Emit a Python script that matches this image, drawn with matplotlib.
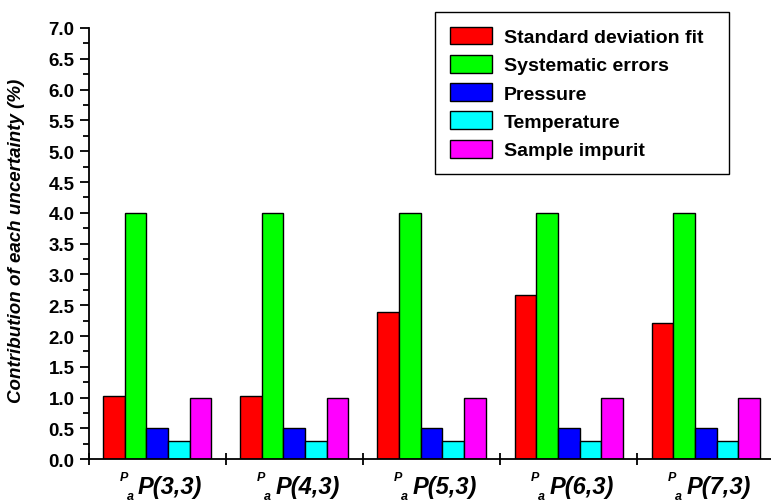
import matplotlib
matplotlib.use("Agg")
import matplotlib.pyplot as plt
import numpy as np
from matplotlib.ticker import MultipleLocator, FixedLocator

plt.rcParams['font.family'] = ['Liberation Sans', 'DejaVu Sans']
plt.rcParams['font.weight'] = 'bold'

groups = ["P(3,3)", "P(4,3)", "P(5,3)", "P(6,3)", "P(7,3)"]
pre_sup = ["P", "P", "P", "P", "P"]
pre_sub = ["a", "a", "a", "a", "a"]

series_names = ["Standard deviation fit", "Systematic errors", "Pressure",
                "Temperature", "Sample impurit"]
std_fit = [1.03, 1.03, 2.39, 2.67, 2.22]
systematic = [4.0, 4.0, 4.0, 4.0, 4.0]
pressure = [0.5, 0.5, 0.5, 0.5, 0.5]
temperature = [0.3, 0.3, 0.3, 0.3, 0.3]
impurity = [1.0, 1.0, 1.0, 1.0, 1.0]
colors = ["#FF0000", "#00FF00", "#0000FF", "#00FFFF", "#FF00FF"]

series = [std_fit, systematic, pressure, temperature, impurity]

W, H = 771, 502
fig = plt.figure(figsize=(W / 100, H / 100), dpi=100)
left_px, right_px, top_px, bottom_px = 88.5, 774.5, 29, 460.3
ax = fig.add_axes([left_px / W, 1 - bottom_px / H,
                   (right_px - left_px) / W, (bottom_px - top_px) / H])

x = np.arange(1, len(groups) + 1)
bw = 0.158
n = len(series)
for i, (vals, c, name) in enumerate(zip(series, colors, series_names)):
    ax.bar(x + (i - (n - 1) / 2) * bw, vals, width=bw, color=c,
           edgecolor='black', linewidth=1.0, label=name, zorder=2)

ax.set_xlim(0.5, len(groups) + 0.5)
ax.set_ylim(0, 7.0)

for s in ['top', 'right']:
    ax.spines[s].set_visible(False)
for s in ['left', 'bottom']:
    ax.spines[s].set_linewidth(1.3)

ax.yaxis.set_major_locator(MultipleLocator(0.5))
ax.yaxis.set_minor_locator(MultipleLocator(0.25))
ax.yaxis.set_major_formatter(matplotlib.ticker.FormatStrFormatter('%.1f'))
ax.tick_params(axis='y', which='major', direction='out', length=6.5, width=1.3,
               labelsize=13.5, pad=3.5)
ax.tick_params(axis='y', which='minor', direction='out', length=4, width=1.3)
for lbl in ax.get_yticklabels():
    lbl.set_fontweight('bold')

ax.xaxis.set_major_locator(FixedLocator(np.arange(0.5, len(groups) + 1, 1.0)))
ax.xaxis.set_minor_locator(FixedLocator(x))
ax.tick_params(axis='x', which='major', direction='inout', length=8, width=1.3,
               labelbottom=False)
ax.tick_params(axis='x', which='minor', direction='in', length=3.5, width=1.3)

for xi, main, sup, sub in zip(x, groups, pre_sup, pre_sub):
    ax.annotate(main, xy=(xi, 0), xycoords=('data', 'axes fraction'),
                xytext=(13, -34), textcoords='offset pixels',
                ha='center', va='baseline', fontsize=17,
                fontweight='bold', fontstyle='italic', annotation_clip=False)
    ax.annotate(sup, xy=(xi, 0), xycoords=('data', 'axes fraction'),
                xytext=(-33.5, -21), textcoords='offset pixels',
                ha='center', va='baseline', fontsize=9,
                fontweight='bold', fontstyle='italic', annotation_clip=False)
    ax.annotate(sub, xy=(xi, 0), xycoords=('data', 'axes fraction'),
                xytext=(-27, -40), textcoords='offset pixels',
                ha='center', va='baseline', fontsize=9,
                fontweight='bold', fontstyle='italic', annotation_clip=False)

fig.text(17 / W, 1 - 241 / H, "Contribution of each uncertainty (%)",
         rotation=90, ha='center', va='center', fontsize=13.5,
         fontweight='bold', fontstyle='italic')

leg = ax.legend(loc='upper left',
                bbox_to_anchor=(435 / W, 1 - 174 / H, 294 / W, 161 / H),
                bbox_transform=fig.transFigure, borderaxespad=0, mode='expand',
                fontsize=14, handlelength=2.16, handleheight=1.03,
                handletextpad=0.62, labelspacing=0.45, borderpad=0.75,
                fancybox=False, frameon=True, framealpha=1)
leg.get_frame().set_edgecolor('black')
leg.get_frame().set_linewidth(1.0)
for t in leg.get_texts():
    t.set_fontweight('bold')

fig.savefig("out.png", dpi=100)
